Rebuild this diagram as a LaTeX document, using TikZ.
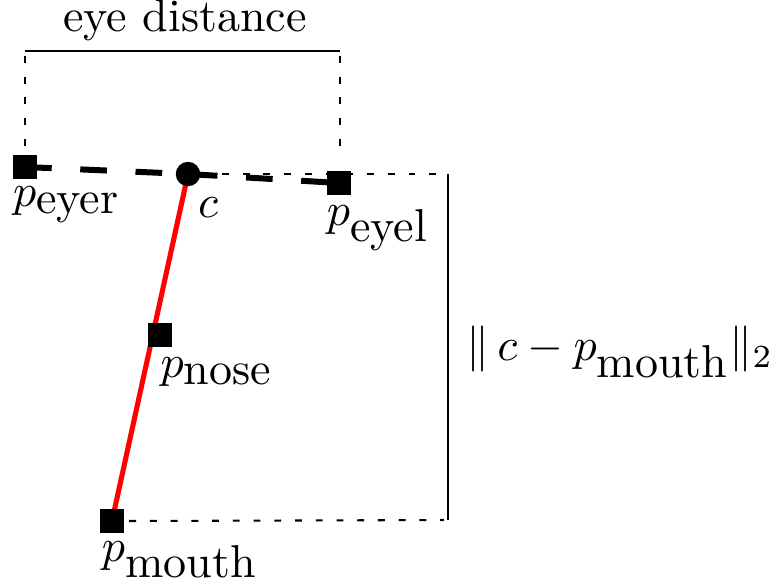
\documentclass[tikz,border=0pt]{standalone}
\usepackage{amsmath}
\usepackage{xcolor}
\usetikzlibrary{positioning,calc,backgrounds}

\begin{document}
\begin{tikzpicture}[x=0.217pt, y=-0.217pt,
  pt/.style={draw=none, fill=black, minimum size=5.3pt, inner sep=0pt},
  ctr/.style={circle, draw=none, fill=black, minimum size=5.3pt, inner sep=0pt},
  lbl/.style={inner sep=0pt},
  eyeline/.style={line width=1.3pt, dash pattern=on 5.8pt off 6.2pt},
  axis/.style={red, line width=1.1pt},
  guide/.style={line width=0.45pt, dash pattern=on 1.5pt off 3pt},
  meas/.style={line width=0.55pt}]
  \useasboundingbox (0,0) rectangle (779,583);
  % landmarks
  \node[pt] (eyer) at (25,167) {};
  \node[ctr] (c) at (188,174) {};
  \node[pt] (eyel) at (339,183) {};
  \node[pt] (nose) at (160,335) {};
  \node[pt] (mouth) at (112,521) {};
  % labels
  \node[lbl] at (67,205) {$p_{\mbox{eyer}}$};
  \node[lbl] at (208,208) {$c$};
  \node[lbl] at (378,228) {$p_{\mbox{eyel}}$};
  \node[lbl] at (217,372) {$p_{\mbox{nose}}$};
  \node[lbl] at (180,560) {$p_{\mbox{mouth}}$};
  % eye distance bracket
  \coordinate (dl) at (25,51);
  \coordinate (dr) at (340,51);
  \draw[meas] (dl) -- (dr);
  \node[lbl] (ed) at (185,20) {eye distance};
  \draw[guide] ($(dl)+(0,5)$) -- ($(eyer.north)+(0,-4)$);
  \draw[guide] ($(dr)+(0,5)$) -- ($(eyel.north)+(1,-14)$);
  % eye line and face axis
  \begin{scope}[on background layer]
    \draw[eyeline] (eyer.center) -- (c.center) -- (eyel.center);
    \draw[axis] (c.center) -- (mouth.center);
  \end{scope}
  % distance bracket
  \coordinate (ht) at (448,174);
  \coordinate (hb) at (448,520);
  \draw[guide] (c.east) -- ($(ht)+(-4,0)$);
  \draw[guide] ($(mouth.east)+(4,0)$) -- ($(hb)+(-4,0)$);
  \draw[meas] (ht) -- (hb);
  \node[lbl] at (620,352) {$\|\,c - p_{\mbox{mouth}}\|_2$};
\end{tikzpicture}
\end{document}
